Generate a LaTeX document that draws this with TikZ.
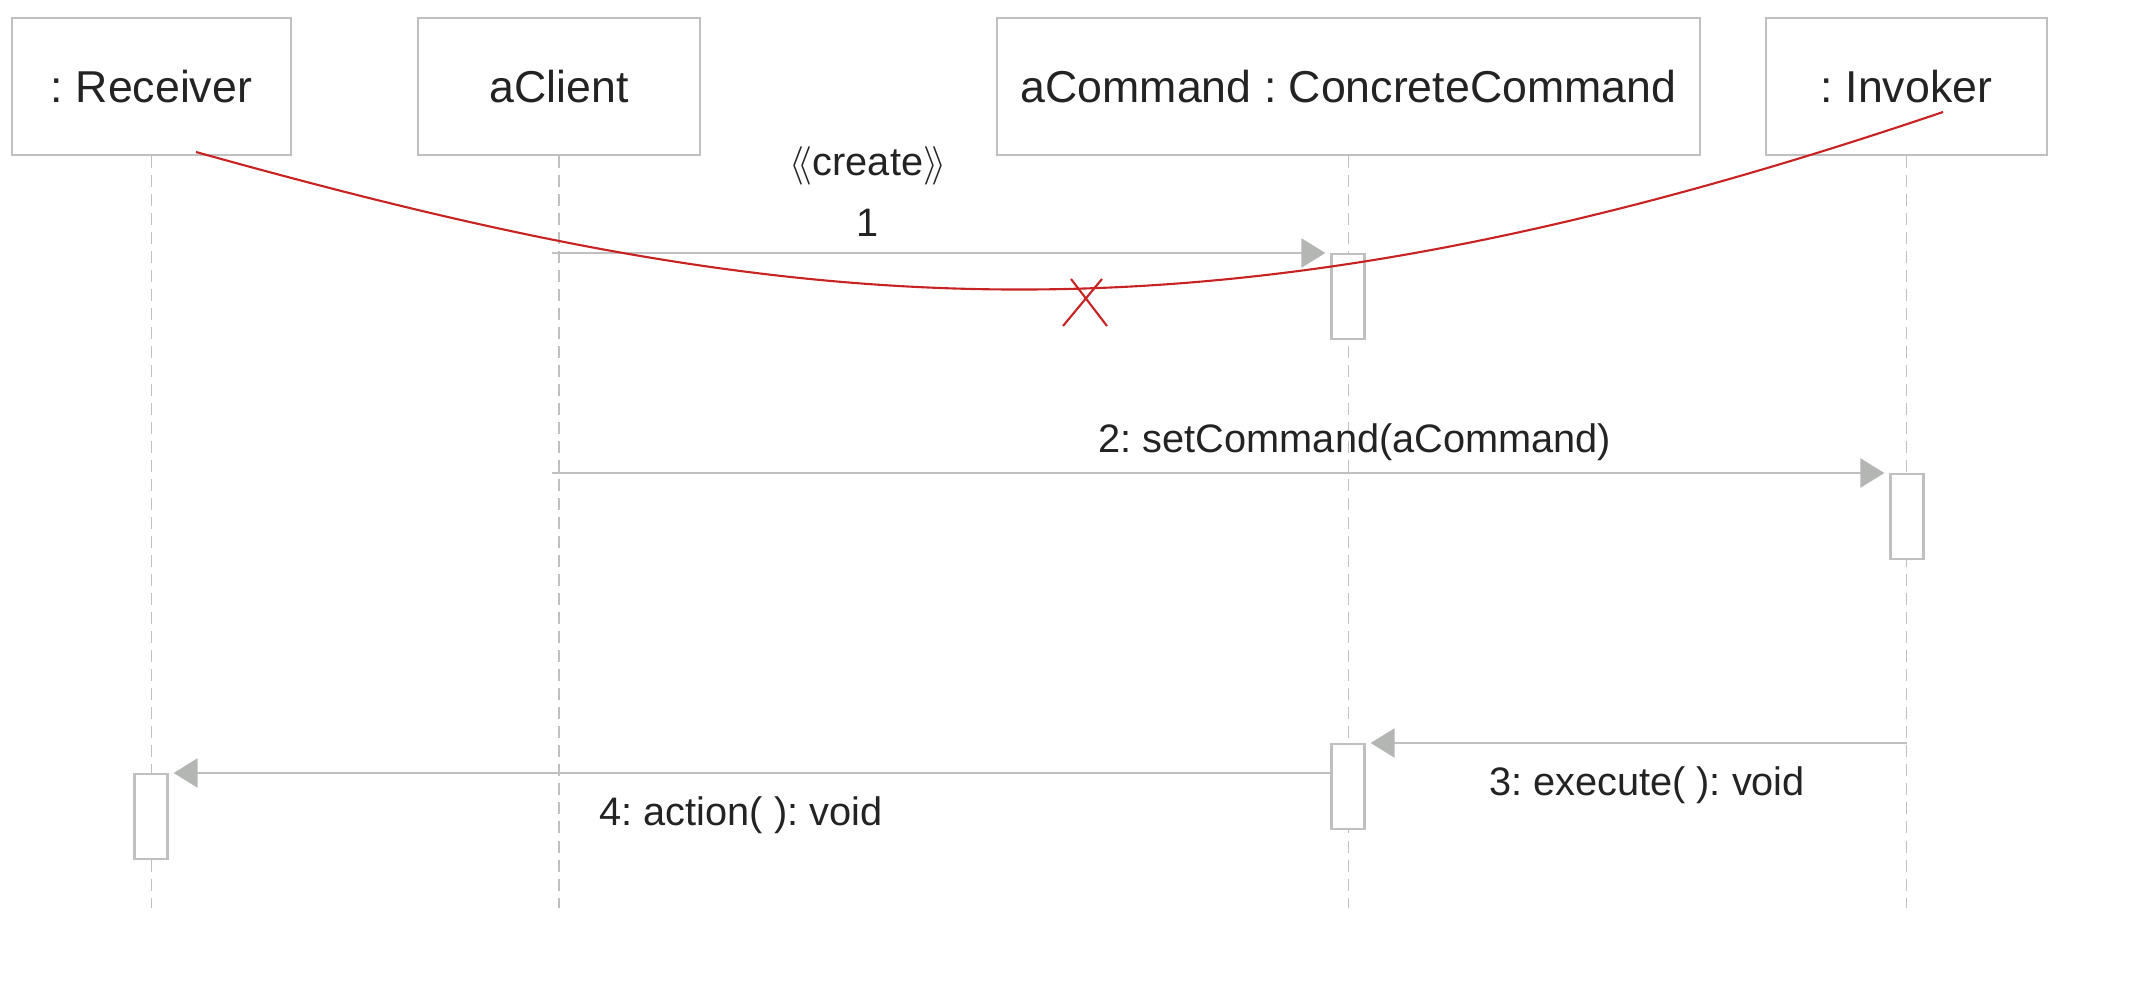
\documentclass[tikz,border=0pt]{standalone}
\usepackage{fontspec}
\setmainfont{Liberation Sans}
\usetikzlibrary{arrows.meta}
\frenchspacing
\definecolor{linegray}{RGB}{192,192,192}
\definecolor{tipgray}{RGB}{180,182,180}
\definecolor{txtgray}{RGB}{35,35,35}
\definecolor{markred}{RGB}{200,35,35}
\tikzset{
  objbox/.style={draw=linegray, line width=0.6pt, minimum width=#1, minimum height=1.37cm, inner sep=0pt, font=\fontsize{12.7}{15}\selectfont, text=txtgray},
  lifeline/.style={draw=linegray, line width=0.4pt, dash pattern=on 0.12cm off 0.07cm},
  actbox/.style={draw=linegray, fill=white, line width=0.6pt, minimum width=0.33cm, minimum height=0.85cm, inner sep=0pt, anchor=north},
  msg/.style={draw=linegray, line width=0.65pt, shorten >=0.05cm, -{Triangle[length=0.24cm,width=0.29cm,color=tipgray,fill=tipgray]}},
  msglabel/.style={font=\fontsize{11.3}{14}\selectfont, text=txtgray, inner sep=0pt},
  redline/.style={draw=markred, line width=0.6pt}
}
\begin{document}
\begin{tikzpicture}[x=0.01cm, y=-0.01cm]
  \useasboundingbox (0,0) rectangle (2141,1000);
  \node[objbox=2.79cm] (recv) at (151.5,86.5) {: Receiver};
  \node[objbox=2.82cm] (client) at (559,86.5) {aClient};
  \node[objbox=7.03cm] (cmd) at (1348.5,86.5) {aCommand : ConcreteCommand};
  \node[objbox=2.81cm] (inv) at (1906.5,86.5) {: Invoker};
  \draw[lifeline] (recv.south) -- ++(0,752);
  \draw[lifeline] (client.south) -- ++(0,752);
  \draw[lifeline] (cmd.south) -- ++(0,752);
  \draw[lifeline] (inv.south) -- ++(0,752);
  \node[actbox] (act1) at (1348,253) {};
  \node[actbox] (act2) at (1907,473) {};
  \node[actbox] (act3) at (1348,743) {};
  \node[actbox] (act4) at (151,773) {};
  \coordinate (m1) at (552,253);
  \coordinate (m2) at (552,473);
  \draw[msg] (m1) -- (act1.north west);
  \draw[msg] (m2) -- (act2.north west);
  \draw[msg] (inv |- act3.north) -- (act3.north east);
  \draw[msg] (act3.west |- act4.north) -- (act4.north east);
  \node[msglabel] (lcreate) at (868,165) {$\big\langle\!\big\langle$create$\big\rangle\!\big\rangle$};
  \node[msglabel] (l1) at (868,223) {1};
  \node[msglabel] (l2) at (1355,442) {2: setCommand(aCommand)};
  \node[msglabel] (l3) at (1647,785) {3: execute( ): void};
  \node[msglabel] (l4) at (741,815) {4: action( ): void};
  \draw[redline] (196,152) .. controls (788,317) and (1192,367) .. (1943,112);
  \draw[redline] (1063,326) -- (1102,279) (1071,279) -- (1107,326);
\end{tikzpicture}
\end{document}
